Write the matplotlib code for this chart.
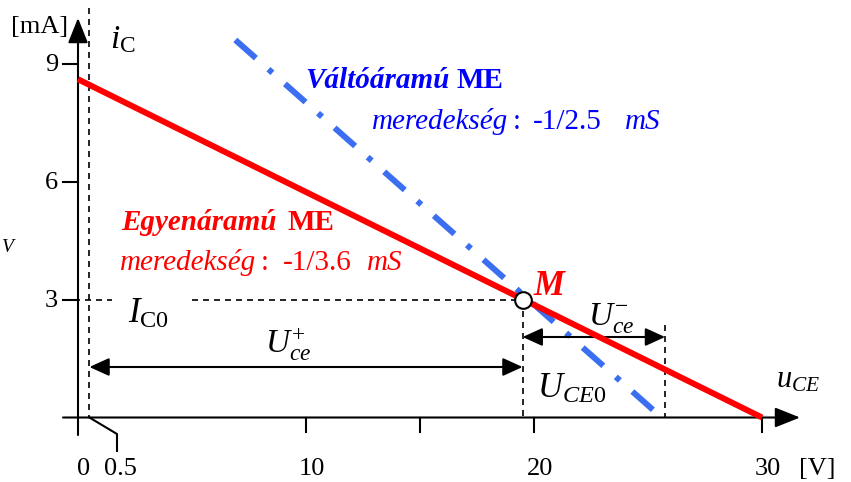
import matplotlib
matplotlib.use("Agg")
import matplotlib.pyplot as plt

plt.rcParams['font.family'] = ['Liberation Serif', 'DejaVu Serif']
plt.rcParams['mathtext.fontset'] = 'custom'
plt.rcParams['mathtext.rm'] = 'Liberation Serif'
plt.rcParams['mathtext.it'] = 'Liberation Serif:italic'
plt.rcParams['mathtext.bf'] = 'Liberation Serif:bold'

# --- data ---
dc_u = [0, 30]          # DC load line, V
dc_i = [8.6, 0]         # mA
ac_u = [6.9, 25.6]      # AC load line, V
ac_i = [9.6, 0]         # mA
q_u, q_i = 19.5, 3      # operating point M
u_plus = [0.5, 19.5]    # U_ce+ span
u_minus = [19.5, 25.75] # U_ce- span
x_ticks = [10, 15, 20, 30]
x_labels = ['10', '', '20', '30']
y_ticks = [3, 6, 9]
y_labels = ['3', '6', '9']

RED = '#ff0000'
BLUE_LINE = '#3b6ef0'
BLUE_TXT = '#0000ff'

# pixel helpers: chart was hand drawn, map pixels onto data units
W, H = 851, 482
X0, SX = 78, 22.8
Y0, SY = 417.5, 39.33


def px(x, y):
    return (x - X0) / SX, (Y0 - y) / SY


fig = plt.figure(figsize=(W / 100, H / 100), dpi=100)
ax = fig.add_axes([0, 0, 1, 1])
ax.axis('off')
ax.set_xlim(px(0, 0)[0], px(W, 0)[0])
ax.set_ylim(px(0, H)[1], px(0, 0)[1])

# axes with arrows
arrow_kw = dict(arrowstyle='-|>, head_length=0.7, head_width=0.28',
                color='black', lw=1.5, mutation_scale=22, shrinkA=0, shrinkB=0)
ax.annotate('', xy=(0, px(0, 18)[1]), xytext=(0, px(0, 435)[1]), arrowprops=arrow_kw)
ax.annotate('', xy=(px(800, 0)[0], 0), xytext=(px(63, 0)[0], 0), arrowprops=arrow_kw)

# x ticks
tick_bot = px(0, 432)[1]
lab_y = px(0, 475)[1]
for v, lab in zip(x_ticks, x_labels):
    ax.plot([v, v], [0, tick_bot], color='black', lw=1.5)
    if lab:
        ax.text(v + 0.25, lab_y, lab, ha='center', va='baseline', fontsize=19)
ax.text(0.26, lab_y, '0', ha='center', va='baseline', fontsize=19)
# leader for 0.5
lx, ly = px(117, 434)
ax.plot([0.5, lx, lx], [0, ly, px(0, 451)[1]], color='black', lw=1.5)
ax.text(px(120, 0)[0], lab_y, '0.5', ha='center', va='baseline', fontsize=19)
ax.text(px(817, 0)[0], lab_y, '[V]', ha='center', va='baseline', fontsize=19)

# y ticks
for v, lab in zip(y_ticks, y_labels):
    ax.plot([px(63, 0)[0], 0], [v, v], color='black', lw=1.5)
    ax.text(px(58, 0)[0], v - 0.05, lab, ha='right', va='center', fontsize=19)
ax.text(*px(40, 33), '[mA]', ha='center', va='baseline', fontsize=19)
ax.text(*px(110, 48), r'$i_{\mathrm{C}}$', ha='left', va='baseline', fontsize=24)
ax.text(*px(8, 252), 'V', ha='center', va='baseline', fontsize=14, style='italic')

# dashed guides
dash = dict(color='black', lw=1.2, linestyle=(0, (3.6, 3.0)))
ax.plot([0.5, 0.5], [px(0, 8)[1], 0], **dash)
ax.plot([px(63, 0)[0], px(112, 0)[0]], [q_i, q_i], **dash)
ax.plot([px(192, 0)[0], q_u], [q_i, q_i], **dash)
ax.plot([q_u, q_u], [q_i, 0], **dash)
ax.plot([u_minus[1], u_minus[1]], [px(0, 325)[1], 0], **dash)

# load lines
ax.plot(ac_u, ac_i, color=BLUE_LINE, lw=4.3, solid_capstyle='butt',
        dash_capstyle='butt', linestyle=(0, (4.6, 2.8, 0.9, 2.8)), zorder=3)
ax.plot(dc_u, dc_i, color=RED, lw=4.3, solid_capstyle='butt', zorder=4)
ax.plot(q_u, q_i, 'o', ms=12, mfc='white', mec='black', mew=1.5, zorder=5)

# span arrows
span_kw = dict(arrowstyle='<|-|>, head_length=0.55, head_width=0.25',
               color='black', lw=1.5, mutation_scale=22, shrinkA=0, shrinkB=0)
yp = px(0, 367)[1]
ax.annotate('', xy=(u_plus[1], yp), xytext=(u_plus[0], yp), arrowprops=span_kw)
ym = px(0, 337)[1]
ax.annotate('', xy=(u_minus[1], ym), xytext=(u_minus[0], ym), arrowprops=span_kw)

# math labels
ax.text(*px(128, 323), r'$I_{\mathrm{C0}}$', ha='left', va='baseline', fontsize=25)
ax.text(*px(265, 353), r'$U_{ce}^{+}$', ha='left', va='baseline', fontsize=24)
ax.text(*px(588, 325), r'$U_{ce}^{-}$', ha='left', va='baseline', fontsize=24)
ax.text(*px(537, 398), r'$U_{CE\mathit{0}}$', ha='left', va='baseline', fontsize=25)
ax.text(*px(776, 387), r'$u_{CE}$', ha='left', va='baseline', fontsize=22)
ax.text(*px(533, 295), 'M', ha='left', va='baseline', fontsize=25,
        color=RED, fontweight='bold', style='italic')

# AC line caption
fs = 21
ax.text(*px(305, 88), 'Váltóáramú', color=BLUE_TXT, fontsize=fs,
        fontweight='bold', style='italic', va='baseline')
ax.text(*px(456, 88), 'ME', color=BLUE_TXT, fontsize=fs, fontweight='bold', va='baseline')
ax.text(*px(372, 129), 'meredekség', color=BLUE_TXT, fontsize=fs, style='italic', va='baseline')
ax.text(*px(513, 129), ':', color=BLUE_TXT, fontsize=fs, va='baseline')
ax.text(*px(533, 129), '-1/2.5', color=BLUE_TXT, fontsize=fs, va='baseline')
ax.text(*px(625, 129), 'mS', color=BLUE_TXT, fontsize=fs, style='italic', va='baseline')

# DC line caption
ax.text(*px(121, 230), 'Egyenáramú', color=RED, fontsize=fs,
        fontweight='bold', style='italic', va='baseline')
ax.text(*px(287, 230), 'ME', color=RED, fontsize=fs, fontweight='bold', va='baseline')
ax.text(*px(120, 270), 'meredekség', color=RED, fontsize=fs, style='italic', va='baseline')
ax.text(*px(261, 270), ':', color=RED, fontsize=fs, va='baseline')
ax.text(*px(283, 270), '-1/3.6', color=RED, fontsize=fs, va='baseline')
ax.text(*px(367, 270), 'mS', color=RED, fontsize=fs, style='italic', va='baseline')

fig.savefig('out.png', dpi=100, facecolor='white')
